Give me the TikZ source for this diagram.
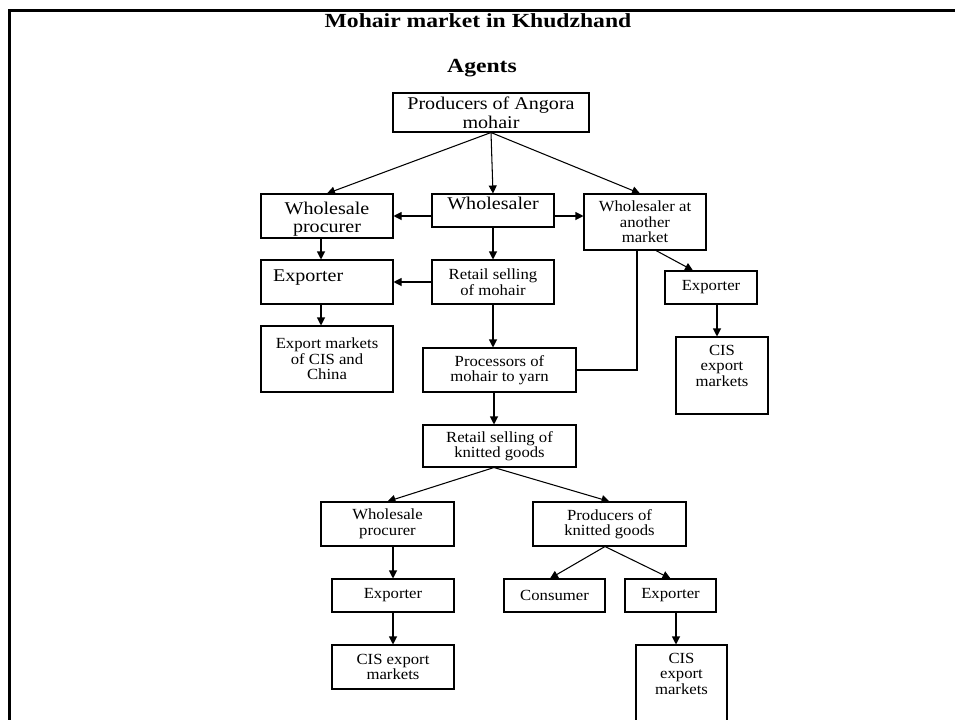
\documentclass[tikz,border=0pt]{standalone}
\usepackage{fontspec}
\setmainfont{Liberation Serif}
\newfontfamily\boxfont[FakeStretch=1.08]{Liberation Serif}
\newfontfamily\bigboxfont[FakeStretch=1.12]{Liberation Serif}
\newfontfamily\headfont[FakeStretch=1.18]{Liberation Serif}
\usetikzlibrary{arrows.meta}

\begin{document}
\begin{tikzpicture}[
  line width=0.6pt,  box/.style={draw,align=center,inner sep=0pt,font=\boxfont\fontsize{8.8}{8.8}\selectfont},  bigbox/.style={box,font=\bigboxfont\fontsize{10.2}{9.7}\selectfont},  head/.style={inner sep=0pt,anchor=base,font=\headfont\bfseries\fontsize{11.4}{11.4}\selectfont},  arr/.style={-{Triangle[length=0.16cm,width=0.16cm]}},  edgeframe/.style={line width=1.7pt}
]
  \useasboundingbox (0,0) rectangle (19.100,-14.400);
  \clip (0,0) rectangle (19.100,-14.400);
  \draw[edgeframe] (0.190,-14.500) -- (0.190,-0.210) -- (19.200,-0.210);
  \node[head] (title) at (9.560,-0.540) {Mohair market in Khudzhand};
  \node[head] (agents) at (9.640,-1.450) {Agents};
  \node[bigbox,font=\bigboxfont\fontsize{10.2}{10.9}\selectfont,minimum width=3.920cm,minimum height=0.780cm] (prod) at (9.820,-2.250) {Producers of Angora\\mohair};
  \node[bigbox,minimum width=2.640cm,text height=0.760cm,text depth=0.120cm] (whproc) at (6.540,-4.320) {Wholesale\\procurer};
  \node[bigbox,minimum width=2.440cm,text height=0.300cm,text depth=0.360cm] (whsaler) at (9.860,-4.210) {Wholesaler};
  \node[box,minimum width=2.440cm,minimum height=1.120cm] (whother) at (12.900,-4.440) {Wholesaler at\\another\\market};
  \node[bigbox,text width=2.160cm,align=left,inner xsep=0.240cm,text height=0.420cm,text depth=0.460cm] (exp1) at (6.540,-5.640) {Exporter};
  \node[box,minimum width=2.440cm,minimum height=0.880cm] (retmo) at (9.860,-5.640) {Retail selling\\of mohair};
  \node[box,minimum width=2.640cm,minimum height=1.320cm] (expmk) at (6.540,-7.180) {Export markets\\of CIS and\\China};
  \node[box,minimum width=3.060cm,minimum height=0.880cm] (procyarn) at (9.990,-7.400) {Processors of\\mohair to yarn};
  \node[box,minimum width=1.840cm,minimum height=0.660cm] (exp2) at (14.220,-5.750) {Exporter};
  \node[box,minimum width=1.840cm,text height=0.980cm,text depth=0.560cm] (cis1) at (14.440,-7.510) {CIS\\export\\markets};
  \node[box,minimum width=3.060cm,minimum height=0.840cm] (retkn) at (9.990,-8.920) {Retail selling of\\knitted goods};
  \node[box,minimum width=2.660cm,minimum height=0.880cm] (whproc2) at (7.750,-10.480) {Wholesale\\procurer};
  \node[box,minimum width=3.060cm,minimum height=0.880cm] (prodkn) at (12.190,-10.480) {Producers of\\knitted goods};
  \node[box,minimum width=2.440cm,minimum height=0.660cm] (exp3) at (7.860,-11.910) {Exporter};
  \node[box,minimum width=2.020cm,minimum height=0.660cm] (consumer) at (11.090,-11.910) {Consumer};
  \node[box,minimum width=1.820cm,minimum height=0.660cm] (exp4) at (13.410,-11.910) {Exporter};
  \node[box,minimum width=2.440cm,minimum height=0.880cm] (cis2) at (7.860,-13.340) {CIS export\\markets};
  \node[box,minimum width=1.820cm,text height=0.980cm,text depth=0.920cm] (cis3) at (13.630,-13.850) {CIS\\export\\markets};
  \draw[arr] (prod.south) -- (whproc.north);
  \draw[arr] (prod.south) -- (whsaler.north);
  \draw[arr] (prod.south) -- ([xshift=-0.100cm]whother.north);
  \draw[arr] (whsaler.west |- whproc.east) -- (whproc.east);
  \draw[arr] (whsaler.east |- whproc.east) -- (whother.west |- whproc.east);
  \draw[arr] (whsaler.south) -- (retmo.north);
  \draw[arr] ([xshift=-0.120cm]whproc.south) -- ([xshift=-0.120cm]exp1.north);
  \draw[arr] (retmo.west) -- (exp1.east);
  \draw[arr] ([xshift=-0.120cm]exp1.south) -- ([xshift=-0.120cm]expmk.north);
  \draw[arr] (retmo.south) -- (retmo.south |- procyarn.north);
  \draw ([xshift=-0.160cm]whother.south) |- (procyarn.east);
  \draw[arr] ([xshift=0.220cm]whother.south) -- ([xshift=-0.360cm]exp2.north);
  \draw[arr] ([xshift=0.120cm]exp2.south) -- ([xshift=0.120cm]exp2.south |- cis1.north);
  \draw[arr] ([xshift=-0.110cm]procyarn.south) -- ([xshift=-0.110cm]retkn.north);
  \draw[arr] ([xshift=-0.110cm]retkn.south) -- (whproc2.north);
  \draw[arr] ([xshift=-0.110cm]retkn.south) -- (prodkn.north);
  \draw[arr] (exp3.north |- whproc2.south) -- (exp3.north);
  \draw[arr] ([xshift=-0.090cm]prodkn.south) -- ([xshift=-0.090cm]consumer.north);
  \draw[arr] ([xshift=-0.090cm]prodkn.south) -- (exp4.north);
  \draw[arr] (exp3.south) -- (cis2.north);
  \draw[arr] ([xshift=0.110cm]exp4.south) -- ([xshift=0.110cm]exp4.south |- cis3.north);
\end{tikzpicture}
\end{document}
